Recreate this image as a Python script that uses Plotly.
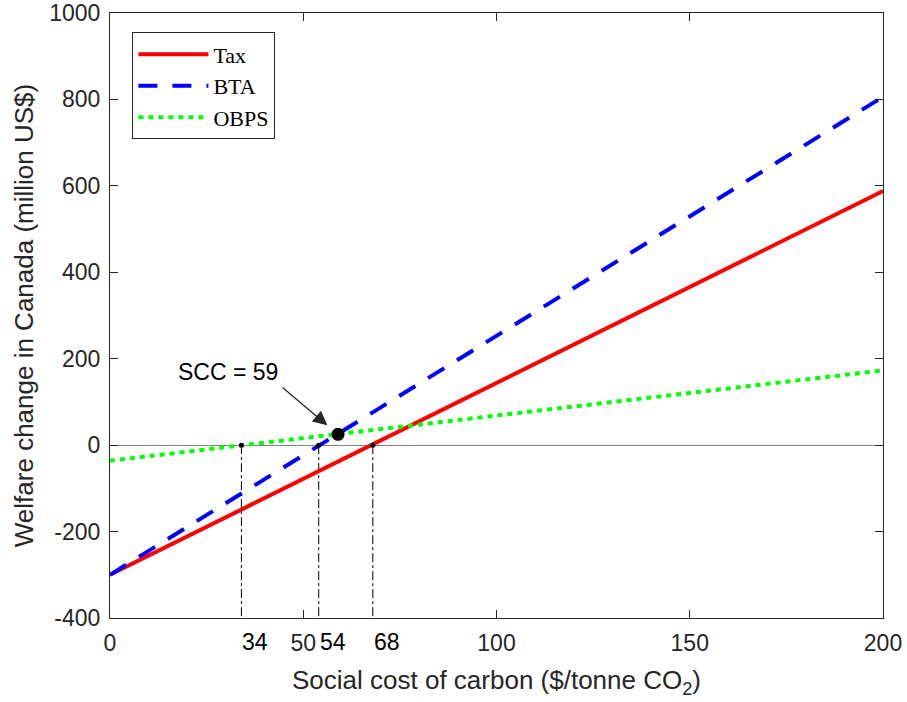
import plotly.graph_objects as go

# ---- data ----
scc_x = [0, 200]
tax = [-300, 588]
bta = [-300, 806]
obps = [-36, 173]

cross_x = [34, 54, 68]          # zero-crossing SCC values (OBPS, BTA, Tax)
cross_y = [0, 0, 0]
cross_labels = ["34", "54", "68"]
y_floor = -400

scc_point_x = [59]
scc_point_y = [25]
scc_text = "SCC = 59"

xticks = [0, 50, 100, 150, 200]
yticks = [-400, -200, 0, 200, 400, 600, 800, 1000]
ytick_labels = ["-400", "-200", "0", "200", "400", "600", "800", "1000"]

TXT = "#262626"
SANS = "Liberation Sans, Arial, sans-serif"
SERIF = "Liberation Serif, Times New Roman, serif"

fig = go.Figure()

# dash-dot drop lines
for cx in cross_x:
    fig.add_trace(go.Scatter(x=[cx, cx], y=[0, y_floor], mode="lines",
                             line=dict(color="black", width=1, dash="dashdot"),
                             showlegend=False, hoverinfo="skip"))

fig.add_trace(go.Scatter(x=scc_x, y=tax, mode="lines", name="Tax",
                         line=dict(color="#FF0000", width=4)))
fig.add_trace(go.Scatter(x=scc_x, y=bta, mode="lines", name="BTA",
                         line=dict(color="#0000FF", width=4, dash="19px,15px")))
fig.add_trace(go.Scatter(x=scc_x, y=obps, mode="lines", name="OBPS",
                         line=dict(color="#00FF00", width=4, dash="5px,5px")))

fig.add_trace(go.Scatter(x=cross_x, y=cross_y, mode="markers",
                         marker=dict(color="black", size=5),
                         showlegend=False, hoverinfo="skip"))
fig.add_trace(go.Scatter(x=scc_point_x, y=scc_point_y, mode="markers",
                         marker=dict(color="black", size=13),
                         showlegend=False, hoverinfo="skip"))

# labels of crossing points (left-aligned text below the axis)
for cx, lab in zip(cross_x, cross_labels):
    fig.add_annotation(x=cx, xref="x", y=-0.040, yref="paper", text=lab,
                       showarrow=False, xanchor="left", yanchor="middle",
                       xshift=-1, font=dict(family=SANS, size=23, color="black"))

# SCC annotation
fig.add_annotation(x=scc_point_x[0], y=scc_point_y[0], xref="x", yref="y",
                   text="", showarrow=True, ax=-57, ay=-48,
                   arrowhead=2, arrowsize=2.2, arrowwidth=1.3,
                   arrowcolor=TXT, standoff=14)
fig.add_annotation(x=30.5, y=169, xref="x", yref="y", text=scc_text,
                   showarrow=False, font=dict(family=SANS, size=23, color="black"))

axis_common = dict(showline=True, linecolor=TXT, linewidth=1, mirror="ticks",
                   ticks="inside", ticklen=8, tickcolor=TXT, showgrid=False,
                   tickfont=dict(family=SANS, size=23, color=TXT))

fig.update_xaxes(range=[0, 200], tickvals=xticks, zeroline=False,
                 title=dict(text="Social cost of carbon ($/tonne CO<sub>2</sub>)",
                            font=dict(family=SANS, size=26, color=TXT), standoff=16),
                 ticklabelstandoff=4,
                 **axis_common)
fig.update_yaxes(range=[-400, 1000], tickvals=yticks, ticktext=ytick_labels,
                 zeroline=True, zerolinecolor="#808080", zerolinewidth=1,
                 title=dict(text="Welfare change in Canada (million US$)",
                            font=dict(family=SANS, size=26, color=TXT), standoff=8),
                 ticklabelstandoff=4,
                 **axis_common)

fig.update_layout(
    width=907, height=702,
    margin=dict(l=110, r=24, t=13, b=84, autoexpand=False),
    plot_bgcolor="white", paper_bgcolor="white",
    legend=dict(x=0.029, y=0.968, xanchor="left", yanchor="top",
                bgcolor="white", bordercolor=TXT, borderwidth=1,
                font=dict(family=SERIF, size=22, color="black"),
                itemwidth=70, tracegroupgap=0),
)

fig.write_html("out.html")
